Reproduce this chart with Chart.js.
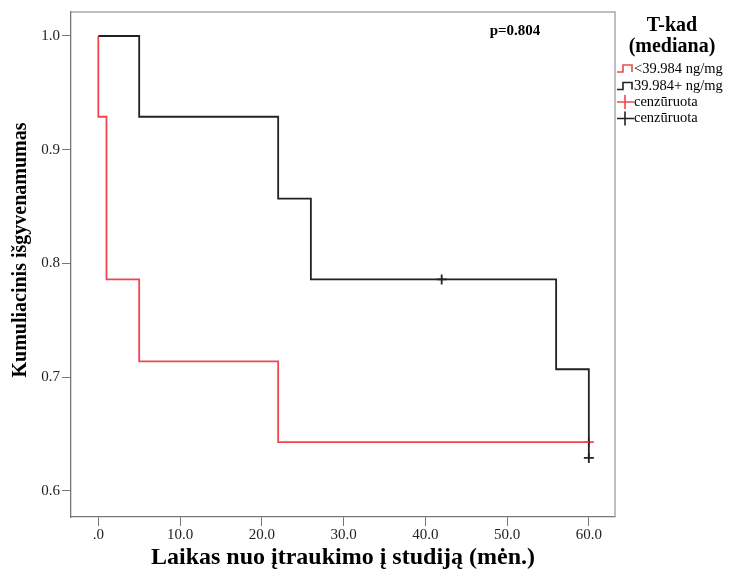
<!DOCTYPE html>
<html>
<head>
<meta charset="utf-8">
<script src="https://cdn.jsdelivr.net/npm/chart.js@4.4.0/dist/chart.umd.min.js"></script>
<style>
  html, body { margin: 0; padding: 0; background: #fff; }
</style>
</head>
<body>
<canvas id="km" width="737" height="571"></canvas>
<script>
// Kaplan-Meier data
const lowTimes = [0, 0, 1, 5, 22, 60];
const lowSurv = [1.0, 0.929, 0.786, 0.714, 0.643, 0.643];
const highTimes = [0, 5, 22, 26, 56, 60, 60];
const highSurv = [1.0, 0.929, 0.857, 0.786, 0.707, 0.707, 0.629];
const lowCensTimes = [60];
const lowCensSurv = [0.643];
const highCensTimes = [42, 60];
const highCensSurv = [0.786, 0.629];
const xTicks = [0, 10, 20, 30, 40, 50, 60];
const yTicks = [0.6, 0.7, 0.8, 0.9, 1.0];
const groupLabels = ['<39.984 ng/mg', '39.984+ ng/mg'];
const censLabel = 'cenzūruota';
const legendTitle = ['T-kad', '(mediana)'];
const pValue = 'p=0.804';
const xTitle = 'Laikas nuo įtraukimo į studiją (mėn.)';
const yTitle = 'Kumuliacinis išgyvenamumas';

const RED = '#f0474f';
const BLACK = '#222';
const SERIF = '"Liberation Serif", "DejaVu Serif", serif';

const pts = (xs, ys) => xs.map((x, i) => ({ x: x, y: ys[i] }));

function stepSet(label, data, color) {
  return {
    label: label,
    data: data,
    stepped: 'before',
    borderColor: color,
    borderWidth: 1.8,
    pointRadius: 0,
    fill: false
  };
}

function censSet(data, color) {
  return {
    label: censLabel,
    data: data,
    showLine: false,
    pointStyle: 'cross',
    pointRadius: 5,
    pointBorderWidth: 1.8,
    pointBorderColor: color,
    borderColor: color
  };
}

const extras = {
  id: 'kmExtras',
  afterDraw(chart) {
    const ctx = chart.ctx;
    const a = chart.chartArea;
    ctx.save();

    // top and right frame
    ctx.strokeStyle = '#aaa';
    ctx.lineWidth = 1.5;
    ctx.beginPath();
    ctx.moveTo(a.left, a.top);
    ctx.lineTo(a.right, a.top);
    ctx.lineTo(a.right, a.bottom);
    ctx.stroke();

    // p value
    ctx.fillStyle = '#000';
    ctx.textAlign = 'center';
    ctx.textBaseline = 'middle';
    ctx.font = 'bold 15px ' + SERIF;
    ctx.fillText(pValue, 515, 31);

    // y axis title
    ctx.save();
    ctx.translate(21, 250);
    ctx.rotate(-Math.PI / 2);
    ctx.font = 'bold 20px ' + SERIF;
    ctx.fillText(yTitle, 0, 0);
    ctx.restore();

    // legend
    ctx.font = 'bold 20px ' + SERIF;
    ctx.fillText(legendTitle[0], 672, 26);
    ctx.fillText(legendTitle[1], 672, 47);

    const rows = [
      { text: groupLabels[0], color: RED, kind: 'step', y: 69 },
      { text: groupLabels[1], color: BLACK, kind: 'step', y: 86.5 },
      { text: censLabel, color: RED, kind: 'cross', y: 102 },
      { text: censLabel, color: BLACK, kind: 'cross', y: 118.5 }
    ];
    ctx.textAlign = 'left';
    ctx.font = '14.5px ' + SERIF;
    rows.forEach(r => {
      ctx.strokeStyle = r.color;
      ctx.lineWidth = 1.6;
      ctx.beginPath();
      if (r.kind === 'step') {
        ctx.moveTo(617, r.y + 3);
        ctx.lineTo(623, r.y + 3);
        ctx.lineTo(623, r.y - 4);
        ctx.lineTo(632, r.y - 4);
        ctx.lineTo(632, r.y + 3);
      } else {
        ctx.moveTo(617, r.y);
        ctx.lineTo(634, r.y);
        ctx.moveTo(625, r.y - 7);
        ctx.lineTo(625, r.y + 7);
      }
      ctx.stroke();
      ctx.fillStyle = '#000';
      ctx.fillText(r.text, 634, r.y);
    });

    ctx.restore();
  }
};

new Chart(document.getElementById('km'), {
  type: 'line',
  data: {
    datasets: [
      stepSet(groupLabels[0], pts(lowTimes, lowSurv), RED),
      stepSet(groupLabels[1], pts(highTimes, highSurv), BLACK),
      censSet(pts(lowCensTimes, lowCensSurv), RED),
      censSet(pts(highCensTimes, highCensSurv), BLACK)
    ]
  },
  options: {
    responsive: false,
    animation: false,
    layout: { padding: { top: 12, right: 122, left: 0, bottom: 0 } },
    plugins: {
      legend: { display: false },
      tooltip: { enabled: false }
    },
    scales: {
      x: {
        type: 'linear',
        min: -3.34,
        max: 63.2,
        afterBuildTicks: s => { s.ticks = xTicks.map(v => ({ value: v })); },
        afterFit: s => { s.height = 54; },
        ticks: {
          callback: v => v === 0 ? '.0' : v.toFixed(1),
          font: { family: SERIF, size: 15 },
          color: '#222',
          padding: 0,
          maxRotation: 0,
          autoSkip: false
        },
        grid: { drawOnChartArea: false, drawTicks: true, tickLength: 9, color: '#777' },
        border: { color: '#777', width: 1.3 },
        title: {
          display: true,
          text: xTitle,
          font: { family: SERIF, size: 24, weight: 'bold' },
          color: '#000',
          padding: { top: 0, bottom: -1 }
        }
      },
      y: {
        min: 0.5771,
        max: 1.0211,
        afterBuildTicks: s => { s.ticks = yTicks.map(v => ({ value: v })); },
        afterFit: s => { s.width = 71; },
        ticks: {
          callback: v => v.toFixed(1),
          font: { family: SERIF, size: 15 },
          color: '#222',
          padding: 2
        },
        grid: { drawOnChartArea: false, drawTicks: true, tickLength: 9, color: '#777' },
        border: { color: '#777', width: 1.3 }
      }
    }
  },
  plugins: [extras]
});
</script>
</body>
</html>
